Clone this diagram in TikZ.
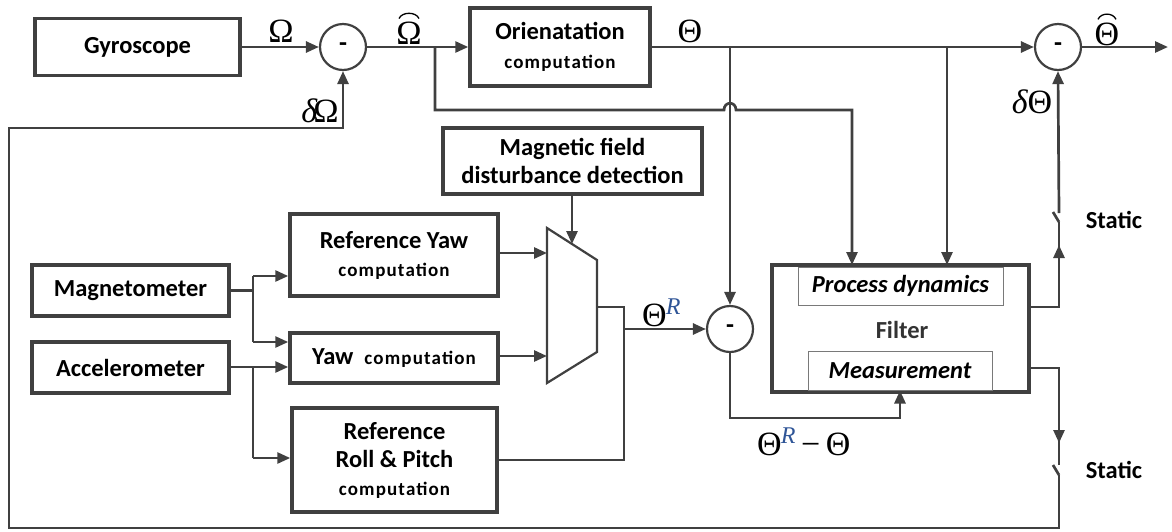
\documentclass[tikz,border=0pt]{standalone}
\usepackage{fontspec}
\setmainfont{Carlito}
\newfontfamily\tms{Liberation Serif}
\usetikzlibrary{arrows.meta}
\definecolor{ln}{HTML}{404040}
\definecolor{rb}{HTML}{2F5597}
\tikzset{
  blk/.style={draw=ln, line width=3.5pt, fill=white, inner sep=0pt, align=center,
    font=\bfseries\fontsize{24.5}{28}\selectfont},
  inbox/.style={draw=ln!70, line width=1pt, fill=white, inner sep=0pt, align=center,
    font=\bfseries\itshape\fontsize{24.5}{28}\selectfont},
  sumnode/.style={circle, draw=ln, line width=2.2pt, fill=white, minimum size=46pt, inner sep=0pt,
    font=\bfseries\fontsize{26}{26}\selectfont},
  conn/.style={draw=ln, line width=2.7pt, -{Triangle[length=13pt,width=11pt]}},
  wire/.style={draw=ln, line width=2.7pt},
  mlab/.style={font=\tms\fontsize{34}{36}\selectfont, inner sep=0pt},
  lab/.style={font=\bfseries\fontsize{24.5}{28}\selectfont, inner sep=0pt},
  hatarc/.style={draw=black, line width=1.3pt},
}
\newcommand{\smallcomp}{{\fontsize{19}{22}\selectfont\addfontfeature{LetterSpace=6}computation}}
\newcommand{\supR}{\raisebox{12pt}{\fontsize{24}{24}\selectfont\itshape\textcolor{rb}{R}}}
\begin{document}
\begin{tikzpicture}[x=1pt,y=-1pt]
\useasboundingbox (0,0) rectangle (1172,531);

% blocks
\node[blk, minimum width=205pt, minimum height=57pt] (gyro) at (137.5,47) {Gyroscope};
\node[blk, minimum width=180pt, minimum height=78pt] (orient) at (560,47) {Orienatation\\[1pt]\smallcomp};
\node[sumnode] (s1) at (343,47) {-};
\node[sumnode] (s3) at (1058,47) {-};
\node[sumnode] (s2) at (730,329) {-};
\node[blk, minimum width=259pt, minimum height=66pt] (mag) at (572.5,161) {Magnetic field\\disturbance detection};
\node[blk, minimum width=208pt, minimum height=82pt] (ryaw) at (394,255) {Reference Yaw\\\smallcomp};
\node[blk, minimum width=208pt, minimum height=50pt] (yaw) at (394,358) {Yaw \ \smallcomp};
\node[blk, minimum width=205pt, minimum height=104pt] (rp) at (394.5,460) {Reference\\Roll \& Pitch\\\smallcomp};
\node[blk, minimum width=197pt, minimum height=51pt] (magn) at (130.5,290.5) {Magnetometer};
\node[blk, minimum width=197pt, minimum height=51pt] (acc) at (130.5,367.5) {Accelerometer};
\node[blk, minimum width=257pt, minimum height=127pt] (filt) at (900.5,328.5) {};
\node[inbox, minimum width=205pt, minimum height=38pt] (proc) at (900.5,286) {Process dynamics};
\node[inbox, minimum width=184pt, minimum height=39pt] (meas) at (900,370.5) {Measurement};
\node[lab, text=ln!80!black] (filtlab) at (902,330) {Filter};

% multiplexer
\coordinate (m1) at (547,228);
\coordinate (m2) at (597,260);
\coordinate (m3) at (597,352);
\coordinate (m4) at (547,383);
\draw[ln, line width=2.2pt, fill=white] (m1) -- (m2) -- (m3) -- (m4) -- cycle;
\coordinate (muxout) at (597,307);
\coordinate (muxin1) at (547,253);
\coordinate (muxin2) at (547,356);
\coordinate (muxtop) at (572,244);

% top row
\draw[conn] (gyro.east) -- (s1.west);
\draw[conn] (s1.east) -- (orient.west);
\draw[conn] (orient.east) -- (s3.west);
\coordinate (out) at (1168,47);
\draw[conn] (s3.east) -- (out);

% branch from Omega-hat to filter with hop
\coordinate (b1) at (435,47);
\draw[conn] (b1) -- (435,110) -- (724,110) .. controls (724,101) and (736,101) .. (736,110) -- (852,110) -- (852,265);

% theta branches
\coordinate (b2) at (730,47);
\draw[conn] (b2) -- (s2.north);
\coordinate (b3) at (947,47);
\draw[conn] (b3) -- (947,265);

% left sensor connections
\draw[wire] (magn.east) -- (253,290.5);
\draw[wire] (253,276) -- (253,342);
\draw[conn] (253,276) -- (ryaw.west |- 0,276);
\draw[conn] (253,342) -- (yaw.west |- 0,342);
\draw[wire] (acc.east |- 0,367) -- (253,367);
\draw[conn] (253,367) -- (yaw.west |- 0,367);
\draw[wire] (253,367) -- (253,458);
\draw[conn] (253,458) -- (rp.west |- 0,458);

% into mux
\draw[conn] (ryaw.east |- muxin1) -- (muxin1);
\draw[conn] (yaw.east |- muxin2) -- (muxin2);
\draw[conn] (mag.south -| muxtop) -- (muxtop);

% mux output and roll/pitch to sum2
\draw[wire] (muxout) -- (624,307) -- (624,460) -- (rp.east |- 0,460);
\draw[conn] (624,329) -- (s2.west);

% sum2 to measurement
\draw[conn] (s2.south) -- (730,418) -- (900,418) -- (meas.south);

% filter outputs with switches
\coordinate (f1) at (filt.east |- 0,307);
\draw[conn] (f1) -- (1059,307) -- (1059,245);
\draw[wire] (1059,247) -- (1059,222);
\draw[wire] (1059,222) -- (1053,212);
\draw[conn] (1059,213) -- (s3.south);

\coordinate (f2) at (filt.east |- 0,368);
\draw[conn] (f2) -- (1059,368) -- (1059,443);
\draw[wire] (1059,441) -- (1059,465);
\draw[wire] (1053,465) -- (1059,475);
\draw[conn] (1059,475) -- (1059,528) -- (9,528) -- (9,128) -- (343,128) -- (s1.south);

% labels
\node[mlab] (lOm) at (281,31) {Ω};
\node[mlab] (lOmh) at (409,33) {Ω};
\draw[hatarc] ([shift={(-10,-3)}]lOmh.north) .. controls +(3,-7) and +(-3,-7) .. ([shift={(10,-3)}]lOmh.north);
\node[mlab] (ldOm) at (320,111) {{\itshape δ}\kern-4ptΩ};
\node[mlab] (lTh) at (690,31) {Θ};
\node[mlab] (lThh) at (1107,34) {Θ};
\draw[hatarc] ([shift={(-9,-3)}]lThh.north) .. controls +(3,-7) and +(-3,-7) .. ([shift={(9,-3)}]lThh.north);
\node[mlab] (ldTh) at (1032,102) {{\itshape δ}Θ};
\node[mlab, anchor=base west] (lThR) at (642,326) {Θ\kern-1pt\supR};
\node[mlab, anchor=base west] (lThRm) at (757,455) {Θ\kern-1pt\supR\,−\,Θ};
\node[lab] (st1) at (1114,220) {Static};
\node[lab] (st2) at (1114,470) {Static};
\end{tikzpicture}
\end{document}
